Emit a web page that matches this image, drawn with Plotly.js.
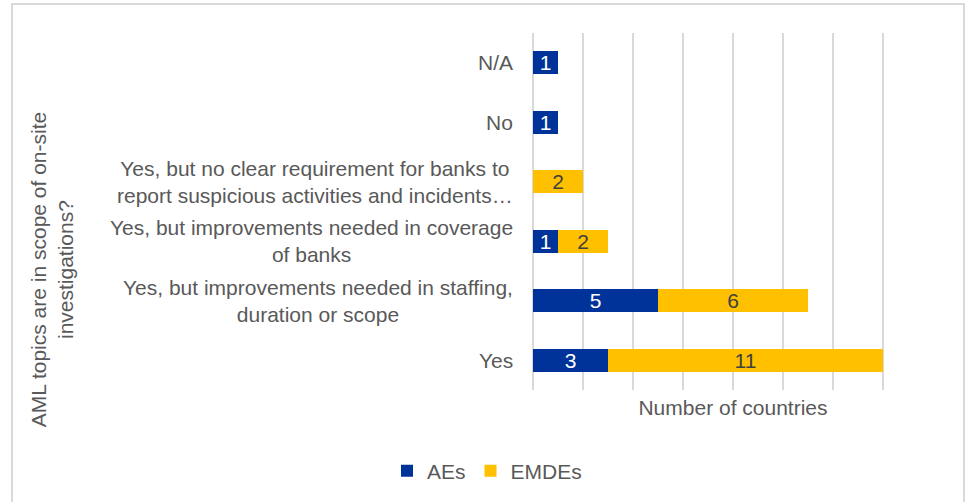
<!DOCTYPE html>
<html>
<head>
<meta charset="utf-8">
<script src="https://cdn.plot.ly/plotly-3.0.1.min.js"></script>
<style>
  html, body { margin: 0; padding: 0; background: #ffffff; }
  #wrap { position: relative; width: 965px; height: 502px; overflow: hidden; }
  #frame { position: absolute; left: 11px; top: 3px; width: 950px; height: 520px; border: 2px solid #d9d9d9; box-sizing: content-box; }
  #chart { position: absolute; left: 0; top: 0; width: 965px; height: 502px; }
</style>
</head>
<body>
<div id="wrap">
  <div id="frame"></div>
  <div id="chart"></div>
</div>
<script>
// Categories, top to bottom
const categories = [
  "N/A",
  "No",
  "Yes, but no clear requirement for banks to<br>report suspicious activities and incidents…",
  "Yes, but improvements needed in coverage<br>of banks",
  "Yes, but improvements needed in staffing,<br>duration or scope",
  "Yes"
];
const categoryKeys = ["N/A", "No", "NoClearReq", "Coverage", "Staffing", "Yes"];
const aesValues   = [1, 1, 0, 1, 5, 3];
const emdesValues = [0, 0, 2, 2, 6, 11];
const seriesNames = ["AEs", "EMDEs"];
const xTitle = "Number of countries";
const yTitle = "AML topics are in scope of on-site<br>investigations?";

const textColor = "#595959";
const fontFamily = "Liberation Sans, Arial, sans-serif";
const fs = 21;

function labels(vals) { return vals.map(v => (v ? String(v) : "")); }

const traces = [
  {
    type: "bar", orientation: "h", name: seriesNames[0],
    y: categoryKeys, x: aesValues,
    text: labels(aesValues), textposition: "inside", insidetextanchor: "middle",
    textangle: 0, constraintext: "none",
    textfont: { family: fontFamily, size: fs, color: "#ffffff" },
    marker: { color: "#003399", line: { width: 0 } },
    hoverinfo: "x+name"
  },
  {
    type: "bar", orientation: "h", name: seriesNames[1],
    y: categoryKeys, x: emdesValues,
    text: labels(emdesValues), textposition: "inside", insidetextanchor: "middle",
    textangle: 0, constraintext: "none",
    textfont: { family: fontFamily, size: fs, color: "#404040" },
    marker: { color: "#FFC000", line: { width: 0 } },
    hoverinfo: "x+name"
  }
];

const annotations = categories.map((c, i) => ({
  text: c, xref: "paper", yref: "y", x: 0, y: categoryKeys[i],
  xanchor: "right", yanchor: "middle", xshift: -18, align: "center",
  showarrow: false, font: { family: fontFamily, size: fs, color: textColor }
}));
annotations.push({
  text: yTitle, xref: "paper", yref: "paper", x: -1.2025, y: 0.338,
  xanchor: "center", yanchor: "middle", textangle: -90, align: "center",
  showarrow: false, font: { family: fontFamily, size: fs, color: textColor }
});

const layout = {
  width: 965, height: 502,
  margin: { l: 533, r: 32, t: 33, b: 111, pad: 0 },
  paper_bgcolor: "rgba(0,0,0,0)", plot_bgcolor: "rgba(0,0,0,0)",
  barmode: "stack", bargap: 0.62,
  font: { family: fontFamily, size: fs, color: textColor },
  showlegend: true,
  legend: {
    orientation: "h", x: -0.115, xanchor: "center", y: -0.2235, yanchor: "middle",
    font: { family: fontFamily, size: fs, color: textColor },
    itemwidth: 30, traceorder: "normal", bgcolor: "rgba(0,0,0,0)"
  },
  xaxis: {
    range: [0, 16], dtick: 2, tick0: 0, showticklabels: false,
    showgrid: true, gridcolor: "#d9d9d9", gridwidth: 1.5,
    zeroline: true, zerolinecolor: "#d9d9d9", zerolinewidth: 1.5,
    showline: false, ticks: "", fixedrange: true,
    title: { text: xTitle, standoff: 10, font: { family: fontFamily, size: fs, color: textColor } }
  },
  yaxis: {
    type: "category", autorange: "reversed", showticklabels: false,
    showgrid: false, zeroline: false, showline: false, ticks: "", fixedrange: true
  },
  annotations: annotations
};

Plotly.newPlot("chart", traces, layout, { displayModeBar: false, staticPlot: true });
</script>
</body>
</html>
